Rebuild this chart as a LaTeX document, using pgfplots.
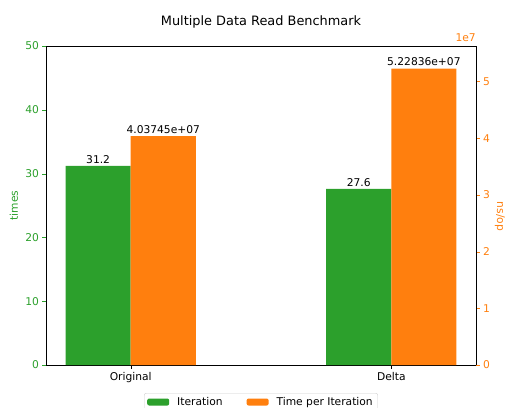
\documentclass[border=0pt]{standalone}
\usepackage{fontspec}
\setmainfont{DejaVu Sans}
\usepackage{pgfplots}
\pgfplotsset{compat=1.18}
\definecolor{tabgreen}{RGB}{44,160,44}
\definecolor{taborange}{RGB}{255,127,14}
\definecolor{legframe}{RGB}{204,204,204}
\newcommand{\fs}{\fontsize{10.7}{12.8}\selectfont}

\pgfplotsset{
  common/.style={
    scale only axis, width=430pt, height=319pt,
    xmin=-0.325, xmax=1.325,
    ymin=0,
    tick align=outside, major tick length=3.5pt,
    tick label style={font=\fs},
    label style={font=\fs},
    /pgf/number format/assume math mode=true,
    ybar, bar width=0.25, bar shift=0pt,
    nodes near coords style={font=\fs, text=black, yshift=-1pt},
  }
}

\begin{document}
\begin{tikzpicture}
\path[use as bounding box] (-46pt,-42pt) rectangle (459pt,365pt);

% left axis: iterations
\begin{axis}[common,
  ymax=50, ytick={0,10,20,30,40,50},
  xtick={0,1}, xticklabels={Original,Delta},
  x tick style={black}, xtick pos=bottom,
  ytick pos=left,
  y tick style={tabgreen}, y tick label style={text=tabgreen},
  ylabel={times},
  ylabel style={text=tabgreen, at={(axis description cs:-0.0744,0.5)}, anchor=center},
  title={Multiple Data Read Benchmark},
  title style={font=\fontsize{12.9}{15}\selectfont, yshift=8pt},
  nodes near coords,
]
\addplot[fill=tabgreen, draw=none] coordinates {(-0.125,31.2) (0.875,27.6)};
\end{axis}

% right axis: ns/op
\begin{axis}[common, name=rax,
  ymax=5.626e7,
  scaled y ticks=false,
  ytick={0,1e7,2e7,3e7,4e7,5e7}, yticklabels={0,1,2,3,4,5},
  axis y line*=right, hide x axis,
  y tick style={taborange}, y tick label style={text=taborange},
  point meta=explicit symbolic,
  nodes near coords,
  legend columns=2,
  legend style={at={(0.5,-0.0878)}, anchor=north, font=\fs,
    draw=legframe, rounded corners=2pt,
    /tikz/every even column/.append style={column sep=22pt},
    /tikz/every odd column/.append style={column sep=6pt}},
  legend image code/.code={\fill[#1] (0pt,-3.5pt) rectangle (22pt,3.5pt);},
]
\addlegendimage{fill=tabgreen, draw=none}
\addlegendentry{Iteration}
\addplot[fill=taborange, draw=none] coordinates {(0.125,40374500) [4.03745e+07] (1.125,52283600) [5.22836e+07]};
\addlegendentry{Time per Iteration}
\end{axis}
\node[font=\fs, text=taborange, anchor=south east, inner sep=0pt] at ([yshift=4pt]rax.north east) {1e7};
\node[font=\fs, text=taborange, rotate=-90, anchor=center] at ([xshift=24pt,yshift=-11pt]rax.east) {ns/op};
\end{tikzpicture}
\end{document}
